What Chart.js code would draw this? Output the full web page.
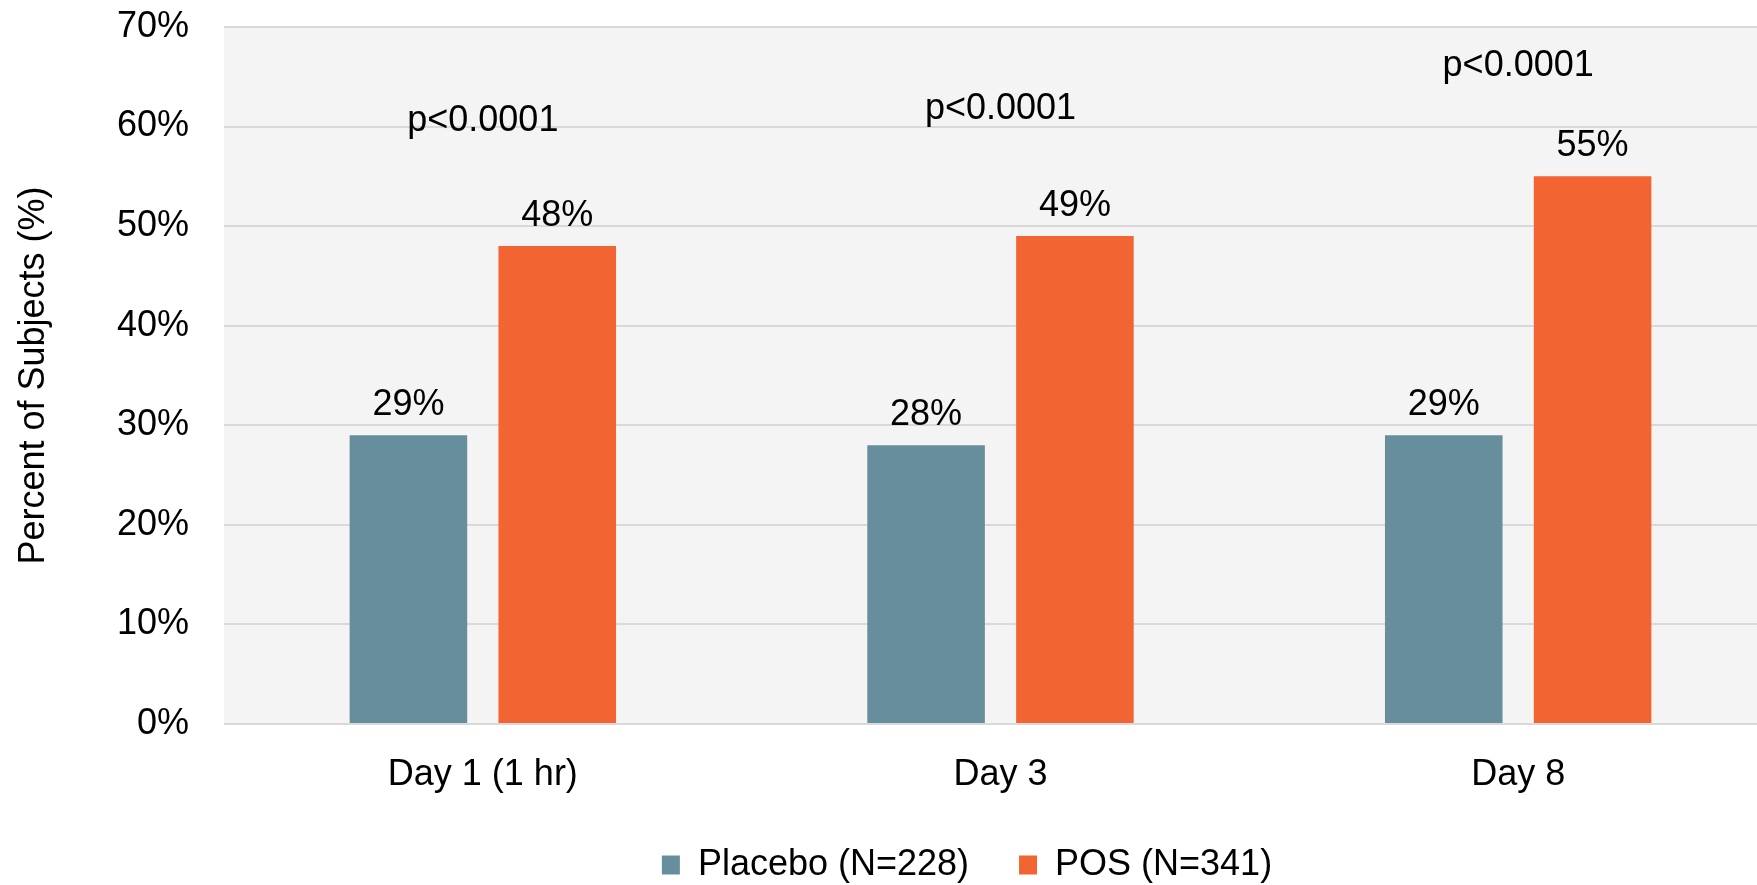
<!DOCTYPE html>
<html>
<head>
<meta charset="utf-8">
<script src="https://cdn.jsdelivr.net/npm/chart.js@4"></script>
<style>
  html, body { margin: 0; padding: 0; background: #ffffff; overflow: hidden; }
  /* the plot runs ~20px past the right edge in the original, so the canvas is wider than the window */
  #wrap { width: 1777px; height: 885px; }
</style>
</head>
<body>
<div id="wrap"><canvas id="bars"></canvas></div>
<script>
// values
const days = ['Day 1 (1 hr)', 'Day 3', 'Day 8'];
const placebo = [29, 28, 29];
const pos = [48, 49, 55];
const pValues = ['p<0.0001', 'p<0.0001', 'p<0.0001'];
const pLevels = [59.6, 60.8, 65.1];   // baseline of the p-value text, in %
const yTicks = [0, 10, 20, 30, 40, 50, 60, 70];

const FONT = 'Arial, "Liberation Sans", sans-serif';

// grey plot background
const plotBg = {
  id: 'plotBg',
  beforeDraw(chart) {
    const a = chart.chartArea;
    const c = chart.ctx;
    c.save();
    c.fillStyle = '#F4F4F4';
    c.fillRect(a.left, a.top, a.right - a.left, a.bottom - a.top);
    c.restore();
  }
};

// percent labels over bars + p-values
const barText = {
  id: 'barText',
  afterDatasetsDraw(chart) {
    const c = chart.ctx;
    c.save();
    c.font = '36px ' + FONT;
    c.fillStyle = '#000000';
    c.textAlign = 'center';
    c.textBaseline = 'alphabetic';
    chart.data.datasets.forEach((ds, i) => {
      chart.getDatasetMeta(i).data.forEach((bar, j) => {
        c.fillText(ds.data[j] + '%', bar.x, bar.y - 20);
      });
    });
    const xs = chart.scales.x, ys = chart.scales.y;
    pValues.forEach((t, i) => {
      c.fillText(t, xs.getPixelForValue(i), ys.getPixelForValue(pLevels[i]));
    });
    c.restore();
  }
};

// legend sits a bit left of the plot centre, like the original
const legendPlace = {
  id: 'legendPlace',
  afterLayout(chart) {
    chart.legend.left = chart.chartArea.left;
    chart.legend.right = chart.width - 67;
  }
};

new Chart(document.getElementById('bars'), {
  type: 'bar',
  data: {
    labels: days,
    datasets: [{
      label: 'Placebo (N=228)',
      data: placebo,
      backgroundColor: '#678E9D'
    }, {
      label: 'POS (N=341)',
      data: pos,
      backgroundColor: '#F26533'
    }]
  },
  options: {
    responsive: true,
    maintainAspectRatio: false,
    animation: false,
    devicePixelRatio: 1,
    categoryPercentage: 0.575,
    barPercentage: 0.79,
    layout: { padding: { top: 27, right: 0, bottom: -8, left: 0 } },
    plugins: {
      legend: {
        position: 'bottom',
        labels: {
          boxWidth: 18,
          boxHeight: 19,
          padding: 50,
          color: '#000000',
          font: { size: 36, family: FONT }
        }
      },
      tooltip: { enabled: false }
    },
    scales: {
      x: {
        grid: { display: false, drawTicks: false },
        border: { display: false },
        ticks: {
          padding: 29,
          color: '#000000',
          font: { size: 36, family: FONT }
        },
        afterFit(scale) { scale.height = 73; }
      },
      y: {
        min: 0,
        max: 70,
        afterBuildTicks(scale) { scale.ticks = yTicks.map(v => ({ value: v })); },
        // invisible tick marks give the gap between labels and plot
        grid: { color: '#D9D9D9', lineWidth: 2, drawTicks: true, tickLength: 35, tickColor: 'rgba(0,0,0,0)' },
        border: { display: false },
        ticks: {
          padding: 0,
          color: '#000000',
          font: { size: 36, family: FONT },
          callback: v => v + '%'
        },
        title: {
          display: true,
          text: 'Percent of Subjects (%)',
          color: '#000000',
          font: { size: 36, family: FONT },
          padding: { top: 12, bottom: 0 }
        },
        afterFit(scale) { scale.width = 224; }
      }
    }
  },
  plugins: [plotBg, barText, legendPlace]
});
</script>
</body>
</html>
